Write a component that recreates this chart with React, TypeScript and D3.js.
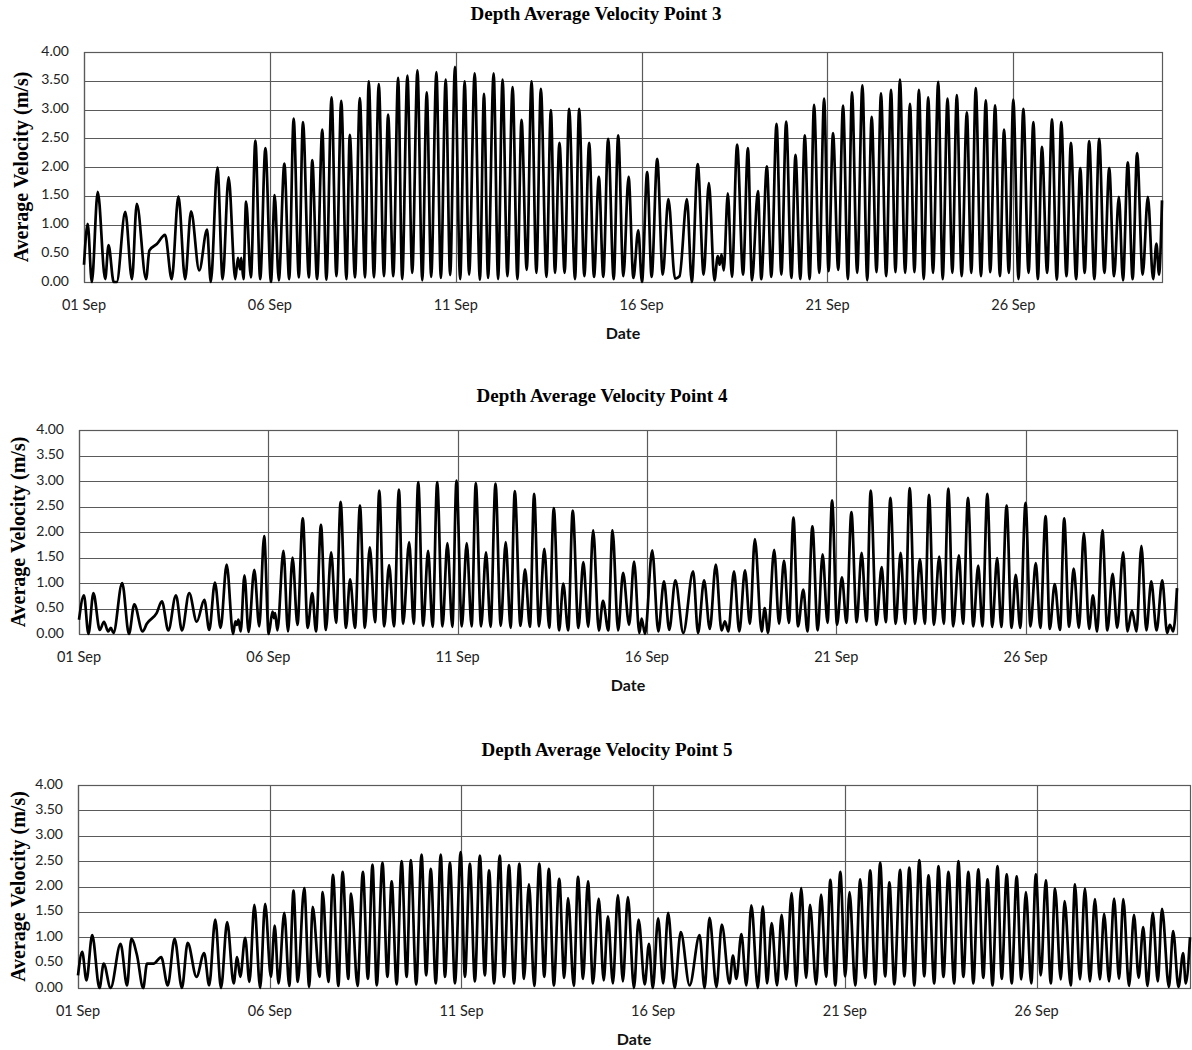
import * as d3 from 'd3';

// days since 01 Sep, depth averaged velocity (m/s) (peaks & troughs)
const point3: [number, number][] = [
  [0, 0.3], [0.1, 1.01], [0.21, 0], [0.37, 1.57], [0.57, 0.05], [0.66, 0.64], [0.8, 0], [0.88, 0], [1.11, 1.22], [1.29, 0.05],
  [1.42, 1.36], [1.67, 0.05], [1.76, 0.55], [1.96, 0.66], [2.18, 0.82], [2.36, 0.05], [2.54, 1.49], [2.72, 0.05], [2.88, 1.23], [3.1, 0.2],
  [3.31, 0.91], [3.41, 0], [3.59, 1.99], [3.73, 0.05], [3.89, 1.82], [4.07, 0.05], [4.14, 0.42], [4.2, 0.22], [4.23, 0.42], [4.29, 0.05],
  [4.36, 1.4], [4.49, 0.08], [4.61, 2.46], [4.74, 0.05], [4.88, 2.33], [5.03, 0], [5.13, 1.51], [5.24, 0.03], [5.39, 2.06], [5.52, 0.05],
  [5.64, 2.84], [5.78, 0.08], [5.89, 2.78], [6.05, 0.08], [6.14, 2.12], [6.27, 0.05], [6.41, 2.65], [6.52, 0.04], [6.66, 3.21], [6.79, 0.1],
  [6.92, 3.15], [7.06, 0.05], [7.15, 2.56], [7.29, 0.08], [7.42, 3.2], [7.56, 0.08], [7.66, 3.49], [7.8, 0.08], [7.93, 3.44], [8.07, 0.1],
  [8.18, 2.91], [8.32, 0.1], [8.45, 3.55], [8.56, 0.05], [8.7, 3.59], [8.83, 0.16], [8.97, 3.68], [9.1, 0.03], [9.22, 3.3], [9.34, 0.09],
  [9.48, 3.65], [9.6, 0.07], [9.73, 3.52], [9.85, 0.12], [9.98, 3.74], [10.12, 0.05], [10.24, 3.49], [10.36, 0.13], [10.51, 3.63], [10.65, 0.04],
  [10.76, 3.27], [10.87, 0.07], [11.02, 3.63], [11.14, 0.05], [11.26, 3.52], [11.39, 0.1], [11.53, 3.39], [11.66, 0.05], [11.77, 2.82], [11.91, 0.21],
  [12.04, 3.49], [12.17, 0.16], [12.29, 3.36], [12.44, 0.09], [12.56, 2.99], [12.67, 0.16], [12.79, 2.42], [12.93, 0.16], [13.05, 3.01], [13.21, 0.05],
  [13.32, 3.01], [13.46, 0.1], [13.59, 2.42], [13.72, 0.09], [13.85, 1.83], [13.97, 0.09], [14.1, 2.49], [14.25, 0.05], [14.37, 2.55], [14.51, 0.1],
  [14.65, 1.83], [14.78, 0.07], [14.91, 0.9], [15.01, 0], [15.15, 1.91], [15.27, 0.09], [15.42, 2.14], [15.57, 0.13], [15.72, 1.44], [15.9, 0.06],
  [16.02, 0.1], [16.22, 1.44], [16.35, 0], [16.51, 2.05], [16.67, 0.13], [16.81, 1.72], [16.96, 0.03], [17.05, 0.45], [17.1, 0.3], [17.15, 0.48],
  [17.21, 0.2], [17.32, 1.54], [17.43, 0.09], [17.57, 2.39], [17.73, 0.13], [17.86, 2.33], [17.97, 0.03], [18.13, 1.58], [18.22, 0.05], [18.37, 2.01],
  [18.49, 0.09], [18.63, 2.75], [18.76, 0.13], [18.89, 2.79], [19.03, 0.07], [19.14, 2.21], [19.27, 0.05], [19.39, 2.55], [19.52, 0.05], [19.64, 3.08],
  [19.78, 0.16], [19.91, 3.19], [20.03, 0.19], [20.15, 2.59], [20.29, 0.21], [20.42, 3.07], [20.55, 0.05], [20.66, 3.3], [20.8, 0.16], [20.94, 3.42],
  [21.07, 0.03], [21.19, 2.87], [21.32, 0.17], [21.44, 3.28], [21.58, 0.1], [21.71, 3.34], [21.83, 0.17], [21.95, 3.52], [22.09, 0.16], [22.22, 3.1],
  [22.34, 0.17], [22.46, 3.34], [22.59, 0.05], [22.71, 3.21], [22.84, 0.16], [22.98, 3.48], [23.1, 0.05], [23.23, 3.19], [23.36, 0.16], [23.48, 3.25],
  [23.61, 0.1], [23.75, 2.95], [23.87, 0.16], [23.99, 3.37], [24.13, 0.1], [24.26, 3.16], [24.38, 0.17], [24.51, 3.07], [24.64, 0.1], [24.75, 2.65],
  [24.88, 0.16], [25, 3.17], [25.14, 0.05], [25.27, 3.01], [25.41, 0.16], [25.54, 2.78], [25.66, 0.05], [25.77, 2.35], [25.91, 0.16], [26.04, 2.83],
  [26.17, 0.04], [26.29, 2.78], [26.43, 0.1], [26.55, 2.42], [26.69, 0.05], [26.8, 1.98], [26.92, 0.16], [27.04, 2.45], [27.18, 0.05], [27.31, 2.49],
  [27.45, 0.16], [27.58, 1.98], [27.71, 0.1], [27.84, 1.48], [27.95, 0.03], [28.08, 2.08], [28.21, 0.05], [28.33, 2.24], [28.48, 0.13], [28.62, 1.48],
  [28.76, 0.05], [28.85, 0.67], [28.92, 0.13], [29, 1.42],
];

const point4: [number, number][] = [
  [0, 0.28], [0.13, 0.76], [0.25, 0], [0.38, 0.8], [0.55, 0.08], [0.66, 0.24], [0.77, 0.05], [0.84, 0.12], [0.91, 0.02], [1.14, 1.0],
  [1.32, 0], [1.46, 0.58], [1.68, 0.05], [1.79, 0.2], [2.05, 0.41], [2.19, 0.64], [2.36, 0.07], [2.56, 0.76], [2.72, 0.07], [2.91, 0.8],
  [3.11, 0.24], [3.31, 0.67], [3.44, 0.08], [3.59, 1.01], [3.74, 0.12], [3.9, 1.36], [4.07, 0], [4.13, 0.25], [4.17, 0.18], [4.21, 0.28],
  [4.27, 0.05], [4.37, 1.15], [4.48, 0.04], [4.63, 1.26], [4.76, 0.15], [4.89, 1.92], [5.01, 0], [5.11, 0.44], [5.15, 0.31], [5.18, 0.41],
  [5.24, 0.07], [5.4, 1.63], [5.52, 0.05], [5.64, 1.5], [5.77, 0.18], [5.91, 2.27], [6.04, 0.12], [6.16, 0.8], [6.26, 0.05], [6.39, 2.14],
  [6.52, 0.08], [6.66, 1.6], [6.79, 0.22], [6.91, 2.59], [7.05, 0.12], [7.16, 1.07], [7.29, 0.12], [7.42, 2.52], [7.55, 0.12], [7.68, 1.7],
  [7.82, 0.23], [7.93, 2.81], [8.06, 0.15], [8.19, 1.35], [8.32, 0.15], [8.45, 2.83], [8.56, 0.2], [8.72, 1.8], [8.84, 0.2], [8.96, 2.98],
  [9.09, 0.16], [9.22, 1.63], [9.34, 0.14], [9.46, 2.98], [9.6, 0.15], [9.73, 1.78], [9.86, 0.14], [9.97, 3.01], [10.11, 0.15], [10.24, 1.78],
  [10.37, 0.15], [10.48, 2.96], [10.62, 0.15], [10.75, 1.6], [10.87, 0.14], [11.0, 2.95], [11.14, 0.16], [11.27, 1.8], [11.4, 0.12], [11.51, 2.8],
  [11.66, 0.16], [11.78, 1.27], [11.91, 0.14], [12.02, 2.75], [12.15, 0.15], [12.29, 1.67], [12.42, 0.12], [12.54, 2.47], [12.68, 0.07], [12.79, 0.99],
  [12.92, 0.07], [13.04, 2.42], [13.19, 0.12], [13.32, 1.41], [13.45, 0.14], [13.58, 2.03], [13.73, 0.07], [13.84, 0.65], [13.98, 0.07], [14.09, 2.03],
  [14.24, 0.07], [14.37, 1.2], [14.53, 0.18], [14.66, 1.42], [14.8, 0.02], [14.86, 0.3], [14.95, 0], [15.14, 1.64], [15.3, 0.05], [15.45, 1.03],
  [15.59, 0.08], [15.75, 1.05], [15.96, 0.02], [16.22, 1.23], [16.35, 0.02], [16.51, 1.05], [16.66, 0.1], [16.82, 1.36], [16.97, 0.07], [17.06, 0.25],
  [17.15, 0.05], [17.3, 1.23], [17.44, 0.05], [17.59, 1.25], [17.72, 0.2], [17.85, 1.86], [18.03, 0.05], [18.11, 0.51], [18.2, 0.02], [18.36, 1.65],
  [18.49, 0.2], [18.62, 1.44], [18.75, 0.22], [18.87, 2.28], [18.99, 0.15], [19.13, 0.87], [19.24, 0.05], [19.37, 2.11], [19.51, 0.07], [19.64, 1.56],
  [19.77, 0.22], [19.89, 2.62], [20.02, 0.18], [20.15, 1.11], [20.27, 0.22], [20.4, 2.39], [20.54, 0.23], [20.67, 1.59], [20.8, 0.25], [20.91, 2.81],
  [21.06, 0.18], [21.2, 1.31], [21.31, 0.23], [21.43, 2.67], [21.57, 0.2], [21.7, 1.59], [21.82, 0.2], [21.94, 2.86], [22.08, 0.2], [22.21, 1.47],
  [22.34, 0.2], [22.45, 2.73], [22.58, 0.18], [22.72, 1.52], [22.84, 0.2], [22.96, 2.85], [23.09, 0.15], [23.24, 1.54], [23.35, 0.2], [23.48, 2.67],
  [23.62, 0.15], [23.75, 1.34], [23.86, 0.15], [23.99, 2.75], [24.12, 0.14], [24.25, 1.49], [24.36, 0.14], [24.5, 2.52], [24.63, 0.12], [24.74, 1.16],
  [24.86, 0.12], [25.0, 2.57], [25.13, 0.15], [25.27, 1.39], [25.39, 0.12], [25.53, 2.31], [25.64, 0.1], [25.77, 0.98], [25.91, 0.08], [26.02, 2.27],
  [26.15, 0.14], [26.27, 1.28], [26.41, 0.12], [26.54, 1.98], [26.68, 0.1], [26.78, 0.76], [26.89, 0.05], [27.03, 2.03], [27.16, 0.07], [27.3, 1.18],
  [27.42, 0.12], [27.58, 1.6], [27.69, 0.05], [27.81, 0.46], [27.93, 0.05], [28.06, 1.73], [28.19, 0.07], [28.32, 1.03], [28.46, 0.07], [28.61, 1.05],
  [28.74, 0.02], [28.81, 0.18], [28.9, 0.05], [29, 0.9],
];

const point5: [number, number][] = [
  [0, 0.25], [0.11, 0.71], [0.22, 0.15], [0.37, 1.04], [0.56, 0], [0.67, 0.48], [0.85, 0], [1.11, 0.87], [1.28, 0.05], [1.39, 0.97],
  [1.54, 0.64], [1.7, 0], [1.8, 0.48], [1.97, 0.48], [2.17, 0.61], [2.34, 0.05], [2.52, 0.97], [2.71, 0], [2.86, 0.89], [3.09, 0.22],
  [3.29, 0.69], [3.42, 0.05], [3.58, 1.35], [3.73, 0], [3.89, 1.3], [4.06, 0.09], [4.15, 0.61], [4.23, 0.22], [4.36, 0.99], [4.47, 0.12],
  [4.6, 1.64], [4.75, 0], [4.88, 1.66], [5.03, 0.22], [5.13, 1.23], [5.23, 0.09], [5.38, 1.48], [5.51, 0.04], [5.62, 1.92], [5.73, 0.12],
  [5.9, 1.97], [6.03, 0.02], [6.12, 1.6], [6.3, 0.22], [6.38, 1.89], [6.53, 0.12], [6.65, 2.23], [6.79, 0.04], [6.9, 2.29], [7.05, 0.18],
  [7.12, 1.86], [7.29, 0.04], [7.43, 2.29], [7.56, 0.18], [7.68, 2.43], [7.79, 0.05], [7.94, 2.47], [8.07, 0.22], [8.18, 2.1], [8.31, 0.07],
  [8.44, 2.5], [8.57, 0.22], [8.68, 2.52], [8.82, 0.07], [8.96, 2.63], [9.08, 0.25], [9.2, 2.35], [9.33, 0.09], [9.46, 2.63], [9.57, 0.22],
  [9.7, 2.47], [9.83, 0.09], [9.98, 2.68], [10.09, 0.22], [10.22, 2.45], [10.35, 0.13], [10.48, 2.61], [10.61, 0.25], [10.72, 2.32], [10.85, 0.09],
  [11.0, 2.61], [11.11, 0.22], [11.24, 2.42], [11.37, 0.09], [11.51, 2.45], [11.63, 0.18], [11.76, 2.04], [11.9, 0.04], [12.03, 2.45], [12.16, 0.22],
  [12.28, 2.35], [12.41, 0.05], [12.55, 2.15], [12.68, 0.2], [12.78, 1.77], [12.93, 0.04], [13.04, 2.19], [13.17, 0.18], [13.3, 2.1], [13.43, 0.09],
  [13.58, 1.76], [13.71, 0.15], [13.82, 1.41], [13.95, 0.09], [14.08, 1.83], [14.21, 0.13], [14.34, 1.79], [14.5, 0], [14.62, 1.35], [14.78, 0.07],
  [14.89, 0.87], [14.99, 0], [15.13, 1.37], [15.26, 0.09], [15.39, 1.48], [15.56, 0], [15.72, 1.1], [15.95, 0.05], [16.21, 1.04], [16.34, 0],
  [16.47, 1.38], [16.65, 0.02], [16.79, 1.25], [16.99, 0.09], [17.08, 0.64], [17.17, 0.18], [17.3, 1.06], [17.43, 0.05], [17.56, 1.63], [17.73, 0],
  [17.86, 1.61], [17.97, 0.09], [18.09, 1.28], [18.23, 0.05], [18.35, 1.44], [18.47, 0.17], [18.61, 1.87], [18.73, 0.04], [18.86, 1.97], [18.99, 0.2],
  [19.09, 1.64], [19.25, 0.07], [19.38, 1.84], [19.51, 0.22], [19.62, 2.13], [19.75, 0.05], [19.88, 2.29], [20.01, 0.23], [20.12, 1.89], [20.27, 0.05],
  [20.4, 2.14], [20.53, 0.2], [20.66, 2.32], [20.79, 0.07], [20.92, 2.47], [21.05, 0.23], [21.16, 2.08], [21.29, 0.07], [21.44, 2.33], [21.55, 0.23],
  [21.68, 2.37], [21.81, 0.05], [21.94, 2.52], [22.07, 0.23], [22.18, 2.22], [22.33, 0.09], [22.44, 2.4], [22.57, 0.22], [22.7, 2.29], [22.85, 0.09],
  [22.96, 2.5], [23.09, 0.22], [23.22, 2.29], [23.35, 0.09], [23.48, 2.34], [23.61, 0.2], [23.72, 2.14], [23.85, 0.05], [23.98, 2.4], [24.09, 0.18],
  [24.22, 2.24], [24.35, 0.09], [24.48, 2.2], [24.6, 0.17], [24.72, 1.89], [24.86, 0.09], [24.98, 2.24], [25.11, 0.25], [25.24, 2.12], [25.37, 0.09],
  [25.48, 1.96], [25.63, 0.17], [25.73, 1.71], [25.89, 0.05], [26.0, 2.04], [26.13, 0.17], [26.26, 1.96], [26.39, 0.13], [26.52, 1.75], [26.65, 0.17],
  [26.76, 1.46], [26.89, 0.13], [27.02, 1.76], [27.15, 0.18], [27.26, 1.75], [27.41, 0.04], [27.54, 1.44], [27.66, 0.2], [27.78, 1.2], [27.89, 0.04],
  [28.03, 1.48], [28.16, 0.13], [28.27, 1.56], [28.45, 0.02], [28.56, 1.12], [28.7, 0.02], [28.82, 0.69], [28.89, 0.09], [29, 1.0],
];

const titles = ['Depth Average Velocity Point 3', 'Depth Average Velocity Point 4', 'Depth Average Velocity Point 5'];
const yTicks = [0, 0.5, 1, 1.5, 2, 2.5, 3, 3.5, 4];
const xTickDays = [0, 5, 10, 15, 20, 25];
const startDate = new Date(2020, 8, 1);
const endDay = 29;

const panels = [
  { data: point3, left: 84, right: 1162, top: 52, bottom: 282, titleX: 596, titleY: 16, labelX: 23 },
  { data: point4, left: 79, right: 1177, top: 430, bottom: 634, titleX: 602, titleY: 398, labelX: 20 },
  { data: point5, left: 78, right: 1190, top: 785, bottom: 988, titleX: 607, titleY: 752, labelX: 20 },
];

const grid = '#5a5a5a';
const sans = 'Lato, "Open Sans", sans-serif';
const serif = '"Liberation Serif", "DejaVu Serif", serif';

const toDate = (d: number) => new Date(startDate.getTime() + d * 864e5);
const fmt = d3.timeFormat('%d %b');

function Panel({ cfg, title }: { cfg: typeof panels[number]; title: string }) {
  const x = d3.scaleTime().domain([startDate, toDate(endDay)]).range([cfg.left, cfg.right]);
  const y = d3.scaleLinear().domain([0, 4]).range([cfg.bottom, cfg.top]);
  const line = d3.line<[number, number]>()
    .x(d => x(toDate(d[0])))
    .y(d => y(d[1]))
    .curve(d3.curveMonotoneX);
  const midY = (cfg.top + cfg.bottom) / 2;

  return (
    <g>
      <text x={cfg.titleX} y={cfg.titleY} textAnchor="middle" dominantBaseline="middle"
        fontFamily={serif} fontWeight="bold" fontSize={19} fill="#000">{title}</text>

      {yTicks.map(t => (
        <g key={'y' + t}>
          <line x1={cfg.left} x2={cfg.right} y1={Math.round(y(t)) + 0.5} y2={Math.round(y(t)) + 0.5}
            stroke={grid} strokeWidth={1.2} />
          <text x={cfg.left - 15} y={y(t)} textAnchor="end" dominantBaseline="middle"
            fontFamily={sans} fontSize={14} fill="#222">{t.toFixed(2)}</text>
        </g>
      ))}
      {xTickDays.map(d => (
        <g key={'x' + d}>
          <line x1={Math.round(x(toDate(d))) + 0.5} x2={Math.round(x(toDate(d))) + 0.5} y1={cfg.top} y2={cfg.bottom}
            stroke={grid} strokeWidth={1.2} />
          <text x={x(toDate(d))} y={cfg.bottom + 24} textAnchor="middle" dominantBaseline="middle"
            fontFamily={sans} fontSize={14.5} fill="#222">{fmt(toDate(d))}</text>
        </g>
      ))}
      <rect x={cfg.left + 0.5} y={cfg.top + 0.5} width={cfg.right - cfg.left} height={cfg.bottom - cfg.top}
        fill="none" stroke={grid} strokeWidth={1.2} />

      <path d={line(cfg.data) ?? ''} fill="none" stroke="#000" strokeWidth={2.7} strokeLinejoin="round" />

      <text x={(cfg.left + cfg.right) / 2} y={cfg.bottom + 53} textAnchor="middle" dominantBaseline="middle"
        fontFamily={sans} fontWeight="bold" fontSize={16} fill="#111">Date</text>
      <text transform={`translate(${cfg.labelX},${midY}) rotate(-90)`} textAnchor="middle" dominantBaseline="middle"
        fontFamily={serif} fontWeight="bold" fontSize={20} fill="#000">Average Velocity (m/s)</text>
    </g>
  );
}

export default function App() {
  return (
    <svg width={1192} height={1050} style={{ position: 'absolute', left: 0, top: 0, background: '#fff' }}>
      <rect width={1192} height={1050} fill="#fff" />
      {panels.map((p, i) => <Panel key={i} cfg={p} title={titles[i]} />)}
    </svg>
  );
}
